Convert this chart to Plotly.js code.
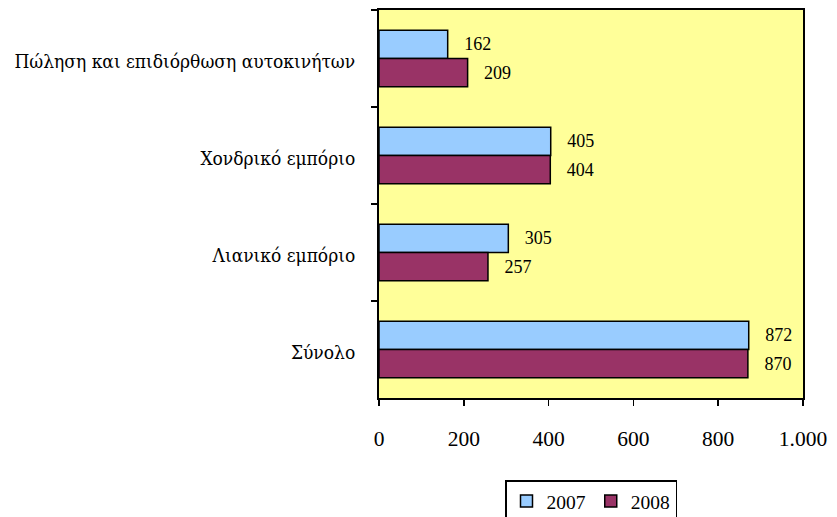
<!DOCTYPE html>
<html><head><meta charset="utf-8">
<script src="https://cdn.plot.ly/plotly-3.0.1.min.js"></script>
<style>body{margin:0;background:#fff}#c{width:837px;height:517px}</style>
</head><body><div id="c"></div>
<script>
const categories = ["Πώληση και επιδιόρθωση αυτοκινήτων", "Χονδρικό εμπόριο", "Λιανικό εμπόριο", "Σύνολο"];
const v2007 = [162, 405, 305, 872];
const v2008 = [209, 404, 257, 870];
const seriesNames = ["2007", "2008"];
const tickVals = [0, 200, 400, 600, 800, 1000];
const tickText = ["0", "200", "400", "600", "800", "1.000"];
const font = {family: "Liberation Serif", size: 18, color: "#000"};
const greekFont = {family: "DejaVu Serif Condensed", size: 19, color: "#000"};
function tr(vals, name, color) {
  return {type: "bar", orientation: "h", x: vals, y: categories, name: name,
    marker: {color: color, line: {color: "#000", width: 1.5}},
    text: vals.map(v => "\u00a0\u00a0\u00a0" + v), textposition: "outside", cliponaxis: false,
    textfont: font, hoverinfo: "x+name"};
}
const data = [tr(v2007, seriesNames[0], "#99CCFF"), tr(v2008, seriesNames[1], "#993366")];
const layout = {
  width: 837, height: 517,
  margin: {l: 379, r: 34, t: 10, b: 119, autoexpand: false},
  paper_bgcolor: "#fff", plot_bgcolor: "#FFFF99",
  font: font,
  barmode: "group", bargap: 0.42, bargroupgap: 0,
  xaxis: {range: [0, 1000], tickvals: tickVals, ticktext: tickText,
    ticks: "outside", ticklen: 6, tickcolor: "#000", tickwidth: 1.5, showgrid: false, zeroline: false,
    showline: true, linecolor: "#000", linewidth: 2, mirror: true, ticklabelstandoff: 14, automargin: false,
    tickfont: {family: "Liberation Serif", size: 21.5, color: "#000"}},
  yaxis: {autorange: "reversed", ticks: "outside", tickson: "boundaries", ticklen: 6, tickcolor: "#000", tickwidth: 1.5,
    showgrid: false, showline: true, linecolor: "#000", linewidth: 2, mirror: true, ticklabelstandoff: 18, automargin: false,
    ticklabelshift: -3, tickfont: greekFont},
  showlegend: true,
  legend: {orientation: "h", x: 0.5, xanchor: "center", y: -0.212, yanchor: "top",
    bordercolor: "#000", borderwidth: 1.5, bgcolor: "#fff", font: {family: "Liberation Serif", size: 19.5, color: "#000"}, traceorder: "normal"}
};
Plotly.newPlot("c", data, layout, {displayModeBar: false, staticPlot: true});
</script></body></html>
